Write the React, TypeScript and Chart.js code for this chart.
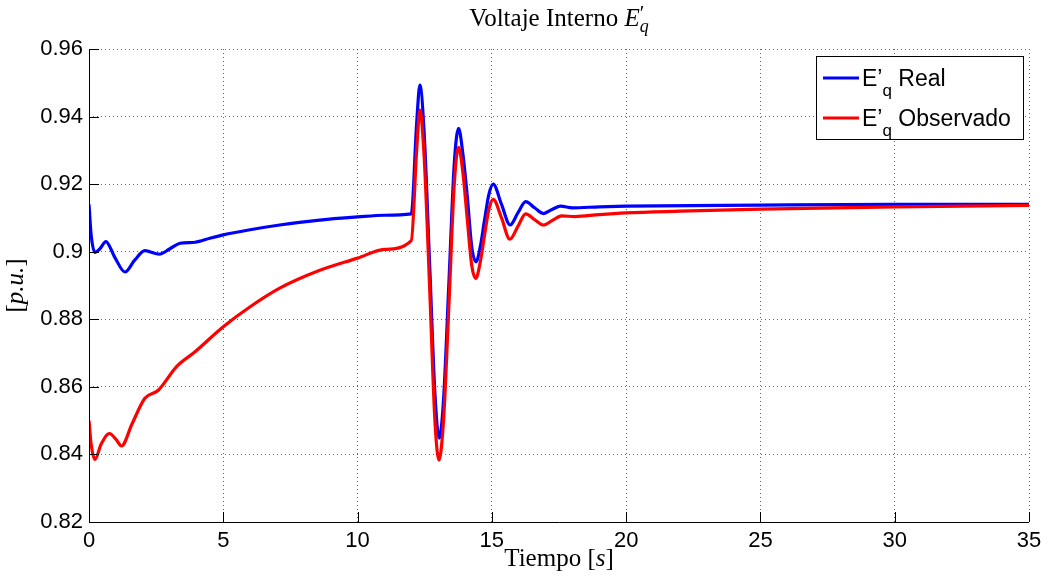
import React, { useEffect, useRef } from "react";
import { Chart, registerables } from "chart.js";

Chart.register(...registerables);

// ---- Data ----
const realTime = [
  0, 0.08, 0.22, 0.4, 0.63, 0.95, 1.34, 1.7, 2.08, 2.62, 3.0, 3.39, 3.95, 4.5, 5.0, 6.0, 7.1, 8.5, 10, 11, 12.0,
  12.2, 12.32, 12.48, 12.68, 12.88, 13.04, 13.2, 13.4, 13.6, 13.76, 13.92, 14.08, 14.25, 14.41, 14.57, 14.73,
  14.89, 15.05, 15.36, 15.68, 15.97, 16.26, 16.59, 16.92, 17.24, 17.56, 18.0, 19, 20, 25, 30, 35,
];
const realValues = [
  0.914, 0.905, 0.8998, 0.9008, 0.903, 0.8985, 0.894, 0.8975, 0.9003, 0.8993, 0.9008, 0.9025, 0.9028, 0.904,
  0.905, 0.9065, 0.9079, 0.9093, 0.9103, 0.9108, 0.9112,
  0.938, 0.9493, 0.935, 0.897, 0.858, 0.8448, 0.856, 0.8907, 0.926, 0.9365, 0.929, 0.9168, 0.9015, 0.897,
  0.9015, 0.9095, 0.917, 0.92, 0.914, 0.9079, 0.9115, 0.9148, 0.913, 0.9113, 0.9125, 0.9135, 0.913,
  0.9133, 0.9135, 0.9138, 0.914, 0.914,
];
const obsTime = [
  0, 0.08, 0.22, 0.45, 0.76, 1.0, 1.21, 1.6, 2.08, 2.58, 3.26, 3.95, 5.0, 6.0, 7.1, 8.5, 10, 11, 12.0,
  12.2, 12.32, 12.48, 12.68, 12.88, 13.03, 13.2, 13.4, 13.6, 13.76, 13.92, 14.08, 14.25, 14.4, 14.57, 14.73,
  14.89, 15.05, 15.36, 15.67, 15.97, 16.26, 16.59, 16.92, 17.24, 17.6, 18.1, 19, 20, 22, 25, 30, 35,
];
const obsValues = [
  0.85, 0.843, 0.8385, 0.843, 0.8462, 0.8445, 0.8425, 0.849, 0.8566, 0.859, 0.866, 0.8704, 0.8778, 0.8837,
  0.8892, 0.8942, 0.8981, 0.9007, 0.9033,
  0.93, 0.9419, 0.928, 0.89, 0.85, 0.8383, 0.85, 0.884, 0.92, 0.9309, 0.9235, 0.91, 0.896, 0.8921, 0.897,
  0.905, 0.9125, 0.9155, 0.91, 0.9037, 0.9075, 0.9112, 0.9095, 0.9079, 0.9092, 0.9106, 0.9104, 0.911,
  0.9115, 0.912, 0.9126, 0.9133, 0.9137,
];
const seriesLabels = ["Real", "Observado"];
const seriesColors = ["#0000ff", "#ff0000"];
const xMin = 0;
const xMax = 35;
const xStep = 5;
const yMin = 0.82;
const yMax = 0.96;
const yStep = 0.02;

type Run = { text: string; font: string; dy?: number; noAdvance?: boolean };

function runsWidth(ctx: CanvasRenderingContext2D, runs: Run[]) {
  let w = 0;
  for (const r of runs) {
    ctx.font = r.font;
    if (!r.noAdvance) w += ctx.measureText(r.text).width;
  }
  return w;
}

function drawRuns(ctx: CanvasRenderingContext2D, runs: Run[], x: number, y: number) {
  let cx = x;
  ctx.textBaseline = "alphabetic";
  ctx.textAlign = "left";
  for (const r of runs) {
    ctx.font = r.font;
    ctx.fillText(r.text, cx, y + (r.dy || 0));
    if (!r.noAdvance) cx += ctx.measureText(r.text).width;
  }
}

const SERIF = "'Liberation Serif', 'DejaVu Serif', serif";
const SANS = "'Liberation Sans', Arial, sans-serif";

const decorPlugin = {
  id: "decor",
  afterDraw(chart: any) {
    const { ctx, chartArea: a, scales } = chart;
    ctx.save();
    ctx.setLineDash([]);
    ctx.strokeStyle = "#000";
    ctx.lineWidth = 1;
    // axes (left and bottom)
    ctx.beginPath();
    ctx.moveTo(Math.round(a.left) + 0.5, Math.round(a.top));
    ctx.lineTo(Math.round(a.left) + 0.5, Math.round(a.bottom) + 0.5);
    ctx.lineTo(Math.round(a.right), Math.round(a.bottom) + 0.5);
    ctx.stroke();
    // inward tick marks
    ctx.beginPath();
    for (const t of scales.y.ticks) {
      const y = Math.round(scales.y.getPixelForValue(t.value)) + 0.5;
      ctx.moveTo(a.left, y);
      ctx.lineTo(a.left + 10, y);
    }
    for (const t of scales.x.ticks) {
      const x = Math.round(scales.x.getPixelForValue(t.value)) + 0.5;
      ctx.moveTo(x, a.bottom);
      ctx.lineTo(x, a.bottom - 10);
    }
    ctx.stroke();

    ctx.fillStyle = "#000";
    const cx = (a.left + a.right) / 2;
    // title
    const title: Run[] = [
      { text: "Voltaje Interno ", font: `25px ${SERIF}` },
      { text: "E", font: `italic 25px ${SERIF}` },
      { text: "\u2032", font: `21px ${SERIF}`, dy: -6, noAdvance: true },
      { text: "q", font: `italic 18px ${SERIF}`, dy: 6 },
    ];
    drawRuns(ctx, title, cx - runsWidth(ctx, title) / 2, 26);
    // x label
    const xl: Run[] = [
      { text: "Tiempo [", font: `25px ${SERIF}` },
      { text: "s", font: `italic 25px ${SERIF}` },
      { text: "]", font: `25px ${SERIF}` },
    ];
    drawRuns(ctx, xl, cx - runsWidth(ctx, xl) / 2, 566);
    // y label
    const yl: Run[] = [
      { text: "[", font: `25px ${SERIF}` },
      { text: "p.u.", font: `italic 25px ${SERIF}` },
      { text: "]", font: `25px ${SERIF}` },
    ];
    ctx.save();
    ctx.translate(23, (a.top + a.bottom) / 2);
    ctx.rotate(-Math.PI / 2);
    drawRuns(ctx, yl, -runsWidth(ctx, yl) / 2, 0);
    ctx.restore();

    // legend
    const lx = a.right - 213;
    const ly = a.top + 7;
    const lw = 207;
    const lh = 83;
    ctx.fillStyle = "#fff";
    ctx.fillRect(lx, ly, lw, lh);
    ctx.strokeStyle = "#000";
    ctx.lineWidth = 1;
    ctx.strokeRect(Math.round(lx) + 0.5, Math.round(ly) + 0.5, lw, lh);
    seriesLabels.forEach((lab, i) => {
      const yy = ly + 22 + i * 40;
      ctx.strokeStyle = seriesColors[i];
      ctx.lineWidth = 3;
      ctx.beginPath();
      ctx.moveTo(lx + 7, yy);
      ctx.lineTo(lx + 43, yy);
      ctx.stroke();
      ctx.fillStyle = "#000";
      const runs: Run[] = [
        { text: "E\u2019", font: `23px ${SANS}` },
        { text: "q", font: `17px ${SANS}`, dy: 10 },
        { text: " " + lab, font: `23px ${SANS}` },
      ];
      drawRuns(ctx, runs, lx + 46, yy + 8);
    });
    ctx.restore();
  },
};

export default function App() {
  const canvasRef = useRef<HTMLCanvasElement | null>(null);

  useEffect(() => {
    const canvas = canvasRef.current;
    if (!canvas) return;
    const realData = realTime.map((t, i) => ({ x: t, y: realValues[i] }));
    const obsData = obsTime.map((t, i) => ({ x: t, y: obsValues[i] }));
    const chart = new Chart(canvas, {
      type: "line",
      data: {
        datasets: [
          {
            label: seriesLabels[0],
            data: realData,
            borderColor: seriesColors[0],
            backgroundColor: seriesColors[0],
            borderWidth: 3.2,
            pointRadius: 0,
            cubicInterpolationMode: "monotone",
            fill: false,
            order: 2,
          },
          {
            label: seriesLabels[1],
            data: obsData,
            borderColor: seriesColors[1],
            backgroundColor: seriesColors[1],
            borderWidth: 3.2,
            pointRadius: 0,
            cubicInterpolationMode: "monotone",
            fill: false,
            order: 1,
          },
        ],
      },
      options: {
        responsive: false,
        animation: false,
        events: [],
        layout: { padding: { top: 49, right: 19, left: 0, bottom: 0 } },
        plugins: { legend: { display: false }, title: { display: false }, tooltip: { enabled: false } },
        scales: {
          x: {
            type: "linear",
            min: xMin,
            max: xMax,
            afterFit: (s: any) => {
              s.height = 58;
            },
            ticks: {
              stepSize: xStep,
              color: "#000",
              padding: 6,
              maxRotation: 0,
              font: { family: SANS, size: 22 },
            },
            grid: { color: "rgba(0,0,0,0.6)", lineWidth: 1, drawTicks: false },
            border: { display: false, dash: [1, 3] },
          },
          y: {
            type: "linear",
            min: yMin,
            max: yMax,
            afterFit: (s: any) => {
              s.width = 89;
            },
            ticks: {
              stepSize: yStep,
              color: "#000",
              padding: 6,
              font: { family: SANS, size: 22 },
              callback: (v: any) => String(Number(Number(v).toFixed(2))),
            },
            grid: { color: "rgba(0,0,0,0.6)", lineWidth: 1, drawTicks: false },
            border: { display: false, dash: [1, 3] },
          },
        },
      },
      plugins: [decorPlugin],
    });
    return () => chart.destroy();
  }, []);

  return (
    <div style={{ position: "absolute", left: 0, top: 0, width: 1048, height: 580, background: "#fff" }}>
      <canvas ref={canvasRef} width={1048} height={580} style={{ display: "block" }} />
    </div>
  );
}
